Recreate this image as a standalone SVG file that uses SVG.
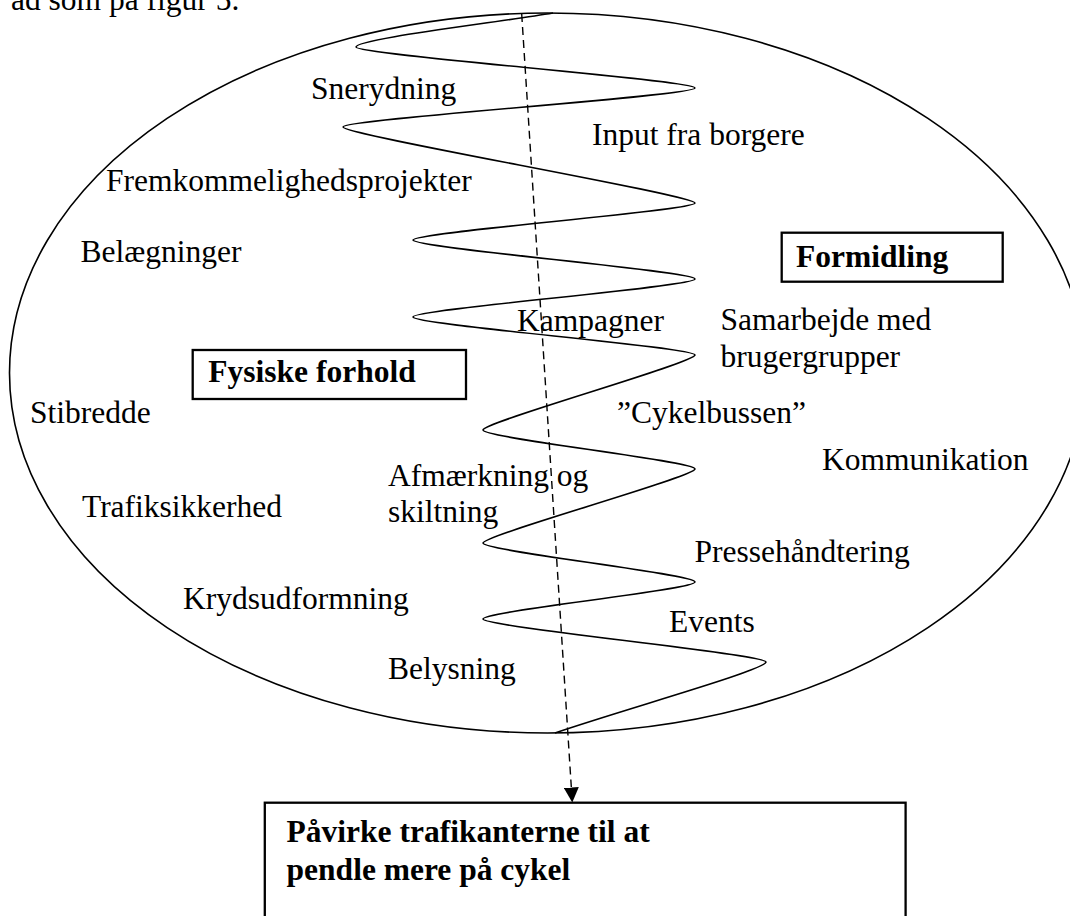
<svg xmlns="http://www.w3.org/2000/svg" width="1070" height="916" viewBox="0 0 1070 916">
<style>
.t{font-family:"Liberation Serif","Times New Roman",serif;font-size:31.5px;fill:#000}
.b{font-weight:bold}
.ln{fill:none;stroke:#000;stroke-width:1.6}
.box{fill:#fff;stroke:#000;stroke-width:2.3}
.dash{fill:none;stroke:#000;stroke-width:1.4;stroke-dasharray:8 5}
</style>
<defs>
<marker id="ah" markerUnits="userSpaceOnUse" viewBox="0 0 15 15" markerWidth="15" markerHeight="15" refX="15" refY="7.5" orient="auto"><path d="M0,0 L15,7.5 L0,15 Z" fill="#000"/></marker>
</defs>
<rect width="1070" height="916" fill="#fff"/>
<text class="t" x="11" y="10">ad som på figur 5.</text>
<g id="ellipse"><ellipse class="ln" cx="547.5" cy="373" rx="538" ry="360"/></g>
<g id="wave"><path class="ln" d="M553,13 C487,24 356,39 356,47 C356,55 695,80 695,88 C695,96 343,119 343,127 C343,135 695,195 695,203 C695,211 413,232 413,240 C413,248 695,271 695,279 C695,287 413,309 413,317 C413,325 695,347 695,355 C695,363 483,422 483,430 C483,438 695,461 695,469 C695,477 483,535 483,543 C483,551 695,574 695,582 C695,590 483,611 483,619 C483,627 766,654 766,662 C766,670 625,709 555,733"/></g>
<g id="connectors"><path class="dash" d="M521.7,14 L572.3,802.5" marker-end="url(#ah)"/></g>
<g id="n-snerydning"><text class="t" x="311" y="99">Snerydning</text></g>
<g id="n-input"><text class="t" x="592" y="145">Input fra borgere</text></g>
<g id="n-fremkommelighed"><text class="t" x="106" y="191">Fremkommelighedsprojekter</text></g>
<g id="n-belaegninger"><text class="t" x="80.5" y="262">Belægninger</text></g>
<g id="n-formidling"><rect class="box" x="781.7" y="232.7" width="221" height="49"/><text class="t b" x="796" y="266.5">Formidling</text></g>
<g id="n-kampagner"><text class="t" x="517" y="331">Kampagner</text></g>
<g id="n-samarbejde"><text class="t" x="720.5" y="330">Samarbejde med</text><text class="t" x="720.5" y="366.5">brugergrupper</text></g>
<g id="n-fysiske"><rect class="box" x="192.7" y="350" width="273.3" height="49"/><text class="t b" x="208.3" y="382">Fysiske forhold</text></g>
<g id="n-stibredde"><text class="t" x="30" y="423">Stibredde</text></g>
<g id="n-cykelbussen"><text class="t" x="617" y="423">”Cykelbussen”</text></g>
<g id="n-kommunikation"><text class="t" x="822" y="470">Kommunikation</text></g>
<g id="n-afmaerkning"><text class="t" x="388" y="485.5">Afmærkning og</text><text class="t" x="388" y="521.5">skiltning</text></g>
<g id="n-trafiksikkerhed"><text class="t" x="82" y="517">Trafiksikkerhed</text></g>
<g id="n-presse"><text class="t" x="694.5" y="562">Pressehåndtering</text></g>
<g id="n-kryds"><text class="t" x="183" y="609">Krydsudformning</text></g>
<g id="n-events"><text class="t" x="669" y="632">Events</text></g>
<g id="n-belysning"><text class="t" x="388" y="679">Belysning</text></g>
<g id="n-pavirke"><rect class="box" x="264.8" y="802.7" width="640.8" height="140"/><text class="t b" x="286.6" y="842">Påvirke trafikanterne til at</text><text class="t b" x="286.6" y="880">pendle mere på cykel</text></g>
</svg>
